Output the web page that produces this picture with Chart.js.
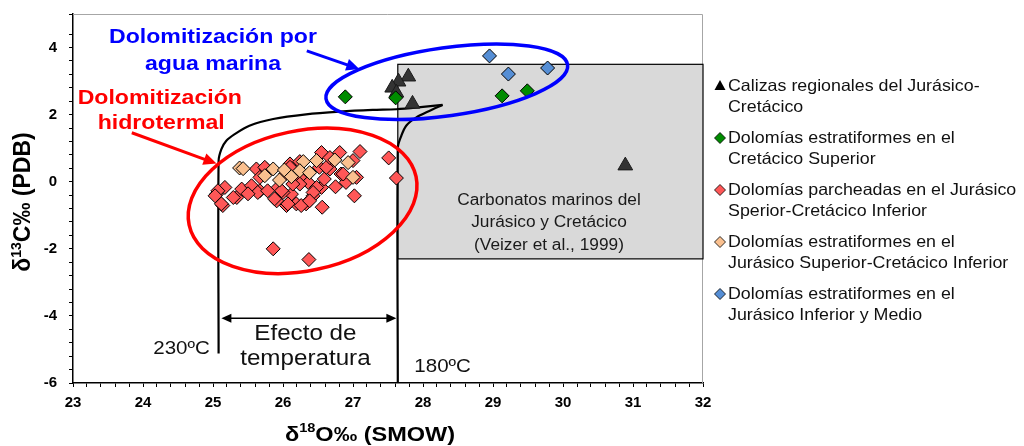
<!DOCTYPE html>
<html>
<head>
<meta charset="utf-8">
<script src="https://cdn.jsdelivr.net/npm/chart.js@4/dist/chart.umd.min.js"></script>
<style>
  html, body { margin: 0; padding: 0; background: #fff; }
  #wrap { width: 1024px; height: 446px; position: relative; }
</style>
</head>
<body>
<div id="wrap"><canvas id="c"></canvas></div>
<script>
// ---- Series (δ18O SMOW, δ13C PDB) ----
const calizasX = [27.79, 27.65, 27.56, 27.62, 27.85, 30.89];
const calizasY = [3.13, 2.98, 2.80, 2.65, 2.32, 0.48];

const cretSupX = [26.89, 27.61, 29.13, 29.49];
const cretSupY = [2.53, 2.50, 2.56, 2.71];

const parcheadasX = [26.55, 26.81, 27.10, 27.51, 27.62, 27.02, 26.56, 25.86, 26.37, 26.10, 25.62, 25.76, 26.67, 26.83, 27.00,
  25.17, 25.05, 25.14, 25.34, 25.41, 25.55, 25.67, 25.91, 26.05, 26.19, 26.33, 26.12, 26.36, 26.55, 26.59, 26.43, 25.93,
  26.24, 26.52, 26.90, 25.67, 26.00, 25.07, 25.03, 25.29, 26.07, 26.48, 26.62, 26.86, 27.05, 26.24, 26.14, 26.43, 26.10,
  25.98, 26.26, 25.88, 25.74, 26.24, 25.64, 26.67, 25.12, 25.50, 25.78, 26.38, 26.75, 26.04];
const parcheadasY = [0.87, 0.87, 0.90, 0.71, 0.11, -0.42, -0.76, -2.00, -2.32, 0.53, 0.38, 0.38, 0.38, 0.23, 0.63,
  -0.17, -0.37, -0.71, -0.47, -0.22, -0.12, -0.27, -0.57, -0.71, -0.66, -0.66, -0.37, -0.02, -0.17, 0.08, -0.42, -0.17,
  0.13, 0.43, -0.02, 0.13, -0.32, -0.27, -0.42, -0.47, -0.66, -0.17, 0.43, 0.23, 0.13, -0.07, -0.07, -0.32, 0.43,
  -0.27, -0.71, -0.51, 0.43, 0.60, -0.32, 0.72, -0.66, -0.36, -0.27, -0.57, -0.15, 0.24];

const jurSupX = [25.38, 25.86, 26.02, 26.29, 26.48, 26.74, 26.93, 27.00, 25.95, 25.74, 26.24, 26.12, 25.43, 26.38];
const jurSupY = [0.41, 0.38, 0.35, 0.60, 0.63, 0.65, 0.57, 0.13, 0.05, 0.18, 0.33, 0.15, 0.39, 0.27];

const jurInfX = [28.95, 29.22, 29.78];
const jurInfY = [3.75, 3.21, 3.39];

const seriesNames = [
  ['Calizas regionales del Jurásico-', 'Cretácico'],
  ['Dolomías estratiformes en el', 'Cretácico Superior'],
  ['Dolomías parcheadas en el Jurásico', 'Sperior-Cretácico Inferior'],
  ['Dolomías estratiformes en el', 'Jurásico Superior-Cretácico Inferior'],
  ['Dolomías estratiformes en el', 'Jurásico Inferior y Medio']
];

// ---- Temperature curves (230 ºC and 180 ºC) ----
const curve230X = [25.08, 25.08, 25.12, 25.19, 25.31, 25.52, 25.86, 26.33, 26.81, 27.28, 27.62, 28.00, 28.28];
const curve230Y = [-5.12, 0.62, 0.97, 1.22, 1.42, 1.67, 1.87, 2.01, 2.09, 2.14, 2.16, 2.23, 2.29];
const curve180X = [27.64, 27.64, 27.69, 27.76, 27.90, 28.09, 28.28];
const curve180Y = [-6.0, 1.01, 1.37, 1.67, 1.91, 2.11, 2.29];

// Marine carbonate field (Veizer et al., 1999)
const marineBoxX = [27.64, 32];
const marineBoxY = [-2.3, 3.5];

// Axis ranges and label steps
const xRange = [23, 32];
const yRange = [-6, 5];
const xLabelStep = 1, yLabelStep = 2;

const FONT = '"Liberation Sans", Arial, Helvetica, sans-serif';
const pts = (xs, ys) => xs.map((x, i) => ({ x, y: ys[i] }));
const isMultiple = (v, s) => Math.abs(v / s - Math.round(v / s)) < 1e-6;

function text(ctx, s, x, y, size, o = {}) {
  ctx.save();
  ctx.translate(x, y);
  ctx.scale(o.sx || 1, 1);
  ctx.font = (o.bold ? 'bold ' : '') + size + 'px ' + FONT;
  ctx.fillStyle = o.color || '#000';
  ctx.textAlign = o.align || 'center';
  ctx.textBaseline = 'middle';
  ctx.fillText(s, 0, 0);
  ctx.restore();
}

// text with a superscript segment, centred on (x, y)
function richText(ctx, parts, x, y, size, rot, sx) {
  ctx.save();
  ctx.translate(x, y);
  ctx.rotate(rot);
  ctx.scale(sx, 1);
  ctx.fillStyle = '#000';
  ctx.textBaseline = 'alphabetic';
  ctx.textAlign = 'left';
  const fonts = parts.map(p => 'bold ' + (p.sup ? Math.round(size * 0.62) : size) + 'px ' + FONT);
  let total = 0;
  const widths = parts.map((p, i) => { ctx.font = fonts[i]; const w = ctx.measureText(p.t).width; total += w; return w; });
  let cx = -total / 2;
  const base = size * 0.36;
  parts.forEach((p, i) => {
    ctx.font = fonts[i];
    ctx.fillText(p.t, cx, p.sup ? base - size * 0.4 : base);
    cx += widths[i];
  });
  ctx.restore();
}

function arrow(ctx, x0, y0, x1, y1, color, lw, headL, headW, both) {
  ctx.save();
  ctx.strokeStyle = color; ctx.fillStyle = color; ctx.lineWidth = lw;
  const a = Math.atan2(y1 - y0, x1 - x0);
  const head = (hx, hy, ang) => {
    ctx.beginPath();
    ctx.moveTo(hx, hy);
    ctx.lineTo(hx - headL * Math.cos(ang) + headW * Math.sin(ang), hy - headL * Math.sin(ang) - headW * Math.cos(ang));
    ctx.lineTo(hx - headL * Math.cos(ang) - headW * Math.sin(ang), hy - headL * Math.sin(ang) + headW * Math.cos(ang));
    ctx.closePath();
    ctx.fill();
  };
  ctx.beginPath();
  ctx.moveTo(x0 + (both ? headL * 0.8 * Math.cos(a) : 0), y0 + (both ? headL * 0.8 * Math.sin(a) : 0));
  ctx.lineTo(x1 - headL * 0.8 * Math.cos(a), y1 - headL * 0.8 * Math.sin(a));
  ctx.stroke();
  head(x1, y1, a);
  if (both) head(x0, y0, a + Math.PI);
  ctx.restore();
}

const annotations = {
  id: 'annotations',
  beforeDatasetsDraw(chart) {
    const { ctx, chartArea: ca, scales: { x, y } } = chart;
    ctx.save();
    // frame on the top and right of the plot
    ctx.strokeStyle = '#a6a6a6'; ctx.lineWidth = 1;
    ctx.beginPath();
    ctx.moveTo(ca.left, ca.top + 0.5); ctx.lineTo(ca.right - 0.5, ca.top + 0.5); ctx.lineTo(ca.right - 0.5, ca.bottom);
    ctx.stroke();
    // marine carbonate field
    const bx0 = x.getPixelForValue(marineBoxX[0]), bx1 = x.getPixelForValue(marineBoxX[1]);
    const by0 = y.getPixelForValue(marineBoxY[1]), by1 = y.getPixelForValue(marineBoxY[0]);
    ctx.fillStyle = '#d9d9d9';
    ctx.fillRect(bx0, by0, bx1 - bx0, by1 - by0);
    ctx.strokeStyle = '#000'; ctx.lineWidth = 1.2;
    ctx.strokeRect(bx0, by0, bx1 - bx0, by1 - by0);
    ctx.restore();
  },
  afterDatasetsDraw(chart) {
    const { ctx, chartArea: ca, scales: { x, y } } = chart;
    const X = v => x.getPixelForValue(v), Y = v => y.getPixelForValue(v);

    // ellipses grouping the dolomites
    ctx.save();
    ctx.lineWidth = 3.5;
    ctx.strokeStyle = '#ff0000';
    ctx.beginPath(); ctx.ellipse(X(26.28), Y(-0.57), 116, 70, -12 * Math.PI / 180, 0, Math.PI * 2); ctx.stroke();
    ctx.strokeStyle = '#0000ff';
    ctx.beginPath(); ctx.ellipse(X(28.34), Y(2.98), 122, 34, -8 * Math.PI / 180, 0, Math.PI * 2); ctx.stroke();
    ctx.restore();

    // pointer arrows
    arrow(ctx, X(26.34), Y(3.90), X(27.09), Y(3.36), '#0000ff', 3, 13, 6, false);
    arrow(ctx, X(23.84), Y(1.46), X(25.05), Y(0.54), '#ff0000', 3, 13, 6, false);
    // temperature effect arrow
    arrow(ctx, X(25.12), Y(-4.07), X(27.62), Y(-4.07), '#000', 1.3, 10, 4.5, true);

    // labels
    text(ctx, 'Dolomitización por', X(25.0), Y(4.32), 21, { bold: true, color: '#0000ff', sx: 1.1 });
    text(ctx, 'agua marina', X(25.0), Y(3.51), 21, { bold: true, color: '#0000ff', sx: 1.1 });
    text(ctx, 'Dolomitización', X(24.24), Y(2.50), 21, { bold: true, color: '#ff0000', sx: 1.1 });
    text(ctx, 'hidrotermal', X(24.26), Y(1.73), 21, { bold: true, color: '#ff0000', sx: 1.1 });
    text(ctx, 'Carbonatos marinos del', X(29.80), Y(-0.57), 16, { color: '#1a1a1a', sx: 1.08 });
    text(ctx, 'Jurásico y Cretácico', X(29.80), Y(-1.22), 16, { color: '#1a1a1a', sx: 1.08 });
    text(ctx, '(Veizer et al., 1999)', X(29.80), Y(-1.90), 16, { color: '#1a1a1a', sx: 1.08 });
    text(ctx, 'Efecto de', X(26.32), Y(-4.55), 22, { color: '#111', sx: 1.1 });
    text(ctx, 'temperatura', X(26.32), Y(-5.27), 22, { color: '#111', sx: 1.1 });
    text(ctx, '230ºC', X(24.55), Y(-4.97), 19, { color: '#111', sx: 1.08 });
    text(ctx, '180ºC', X(28.28), Y(-5.51), 19, { color: '#111', sx: 1.08 });

    // axis titles
    richText(ctx, [{ t: 'δ' }, { t: '18', sup: true }, { t: 'O‰ (SMOW)' }], 370, 433, 21, 0, 1.12);
    richText(ctx, [{ t: 'δ' }, { t: '13', sup: true }, { t: 'C‰ (PDB)' }], 22, 202, 23, -Math.PI / 2, 1.0);

    // legend
    const lx = ca.right + 17, ly0 = 86, step = 52, lh = 21;
    chart.data.datasets.filter(d => d.legendIndex !== undefined)
      .sort((a, b) => a.legendIndex - b.legendIndex)
      .forEach((d, i) => {
        const cy = ly0 + i * step;
        ctx.save();
        ctx.fillStyle = d.backgroundColor; ctx.strokeStyle = '#000'; ctx.lineWidth = 0.8;
        ctx.beginPath();
        if (d.pointStyle === 'triangle') {
          ctx.moveTo(lx, cy - 6); ctx.lineTo(lx + 5.5, cy + 4); ctx.lineTo(lx - 5.5, cy + 4); ctx.closePath();
          ctx.fillStyle = '#000'; ctx.fill();
        } else {
          ctx.moveTo(lx, cy - 5.5); ctx.lineTo(lx + 5.5, cy); ctx.lineTo(lx, cy + 5.5); ctx.lineTo(lx - 5.5, cy); ctx.closePath();
          ctx.fill(); ctx.stroke();
        }
        ctx.restore();
        seriesNames[d.legendIndex].forEach((line, j) => {
          text(ctx, line, lx + 8, cy + j * lh, 16.5, { align: 'left', color: '#111', sx: 1.08 });
        });
      });
  }
};

const marker = (label, xs, ys, style, fill, r, order, legendIndex) => ({
  label, data: pts(xs, ys), pointStyle: style, pointRadius: r,
  backgroundColor: fill, borderColor: style === 'triangle' ? '#1a1a1a' : '#000', borderWidth: 1,
  showLine: false, order, legendIndex
});
const curve = (label, xs, ys) => ({
  type: 'line', label, data: pts(xs, ys), showLine: true, borderColor: '#000', borderWidth: 2.2,
  pointRadius: 0, tension: 0.3, fill: false, order: 10
});

new Chart(document.getElementById('c'), {
  type: 'scatter',
  data: {
    datasets: [
      curve('230ºC', curve230X, curve230Y),
      curve('180ºC', curve180X, curve180Y),
      marker(seriesNames[0].join(' '), calizasX, calizasY, 'triangle', '#333333', 8.5, 4, 0),
      marker(seriesNames[1].join(' '), cretSupX, cretSupY, 'rectRot', '#008c00', 7, 3, 1),
      marker(seriesNames[2].join(' '), parcheadasX, parcheadasY, 'rectRot', '#ff5757', 7, 2, 2),
      marker(seriesNames[3].join(' '), jurSupX, jurSupY, 'rectRot', '#fac08f', 7, 1, 3),
      marker(seriesNames[4].join(' '), jurInfX, jurInfY, 'rectRot', '#558ed5', 7, 0, 4)
    ]
  },
  options: {
    responsive: true,
    maintainAspectRatio: false,
    animation: false,
    events: [],
    layout: { padding: { top: 14, right: 321, left: 0, bottom: 0 } },
    plugins: { legend: { display: false }, tooltip: { enabled: false } },
    scales: {
      x: {
        type: 'linear', min: xRange[0], max: xRange[1],
        afterFit: s => { s.height = 63; s.paddingLeft = 0; s.paddingRight = 0; },
        border: { color: '#000', width: 1.5 },
        grid: { drawOnChartArea: false, drawTicks: true, tickLength: 4, color: '#000' },
        ticks: {
          stepSize: 0.2, autoSkip: false, maxRotation: 0, padding: 7, color: '#000',
          font: { family: FONT, size: 15, weight: 'bold' },
          callback: v => isMultiple(v, xLabelStep) ? String(Math.round(v)) : ''
        }
      },
      y: {
        type: 'linear', min: yRange[0], max: yRange[1],
        afterFit: s => { s.width = 73; s.paddingTop = 0; s.paddingBottom = 0; },
        border: { color: '#000', width: 1.5 },
        grid: { drawOnChartArea: false, drawTicks: true, tickLength: 4, color: '#000' },
        ticks: {
          stepSize: 0.4, autoSkip: false, padding: 12, color: '#000',
          font: { family: FONT, size: 15, weight: 'bold' },
          callback: v => (isMultiple(v, yLabelStep) && v <= 4) ? String(Math.round(v)) : ''
        }
      }
    }
  },
  plugins: [annotations]
});
</script>
</body>
</html>
